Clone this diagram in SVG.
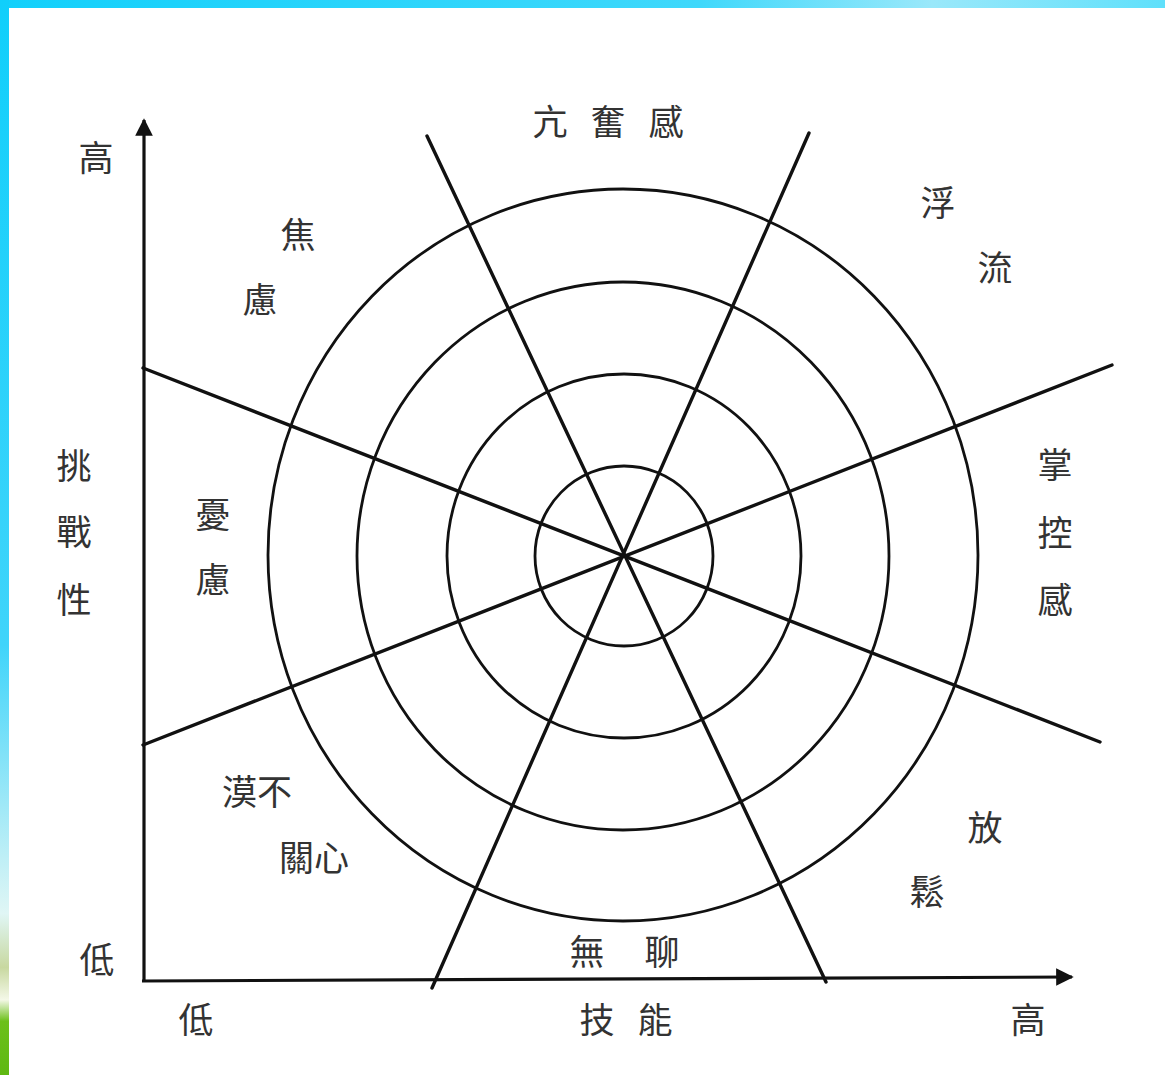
<svg xmlns="http://www.w3.org/2000/svg" width="1165" height="1075" viewBox="0 0 1165 1075">
<style>
.t{font-family:"Noto Sans CJK TC","Noto Sans CJK SC",sans-serif;font-size:35px;fill:#333;text-anchor:middle;dominant-baseline:central}
.ring{fill:none;stroke:#111;stroke-width:2.8}
.ray{stroke:#111;stroke-width:3.4;stroke-linecap:round}
.ax{stroke:#111;stroke-width:3.2}
</style>
<defs>
<linearGradient id="top" x1="0" y1="0" x2="1" y2="0">
<stop offset="0" stop-color="#12d0fb"/>
<stop offset="0.6" stop-color="#3fd8fb"/>
<stop offset="0.8" stop-color="#9ae8fa"/>
<stop offset="1" stop-color="#5fe0fb"/>
</linearGradient>
<linearGradient id="left" x1="0" y1="0" x2="0" y2="1">
<stop offset="0" stop-color="#10cffb"/>
<stop offset="0.6" stop-color="#40d4fa"/>
<stop offset="0.85" stop-color="#e0f6f5"/>
<stop offset="0.9" stop-color="#c8d8a0"/>
<stop offset="0.93" stop-color="#f4f8e8"/>
<stop offset="0.95" stop-color="#6cc01a"/>
<stop offset="1" stop-color="#5fb812"/>
</linearGradient>
<marker id="arr" viewBox="0 0 10 10" refX="9" refY="5" markerWidth="5.5" markerHeight="5.5" orient="auto" markerUnits="strokeWidth">
<path d="M0,0 L10,5 L0,10 Z" fill="#111"/>
</marker>
</defs>
<rect width="1165" height="1075" fill="#fff"/>
<rect x="0" y="0" width="1165" height="8" fill="url(#top)"/>
<rect x="0" y="0" width="9" height="1075" fill="url(#left)"/>

<g id="rings">
<ellipse class="ring" cx="623" cy="555" rx="355" ry="366"/>
<ellipse class="ring" cx="623" cy="556" rx="266" ry="274"/>
<ellipse class="ring" cx="624" cy="556" rx="177" ry="182"/>
<ellipse class="ring" cx="624" cy="556" rx="89" ry="90"/>
</g>

<g id="connectors">
<line class="ray" x1="143" y1="368" x2="1100" y2="742"/>
<line class="ray" x1="143" y1="745" x2="1112" y2="365"/>
<line class="ray" x1="427" y1="136" x2="826" y2="982"/>
<line class="ray" x1="809" y1="133" x2="432" y2="988"/>
<line class="ax" x1="144" y1="982" x2="144" y2="120" marker-end="url(#arr)"/>
<line class="ax" x1="142" y1="981" x2="1072" y2="977" marker-end="url(#arr)"/>
</g>

<g id="labels">
<text class="t" x="96" y="155">高</text>
<text class="t" x="550" y="119">亢</text>
<text class="t" x="608" y="119">奮</text>
<text class="t" x="666" y="119">感</text>
<text class="t" x="938" y="200">浮</text>
<text class="t" x="995" y="265">流</text>
<text class="t" x="298" y="232">焦</text>
<text class="t" x="260" y="297">慮</text>
<text class="t" x="74" y="463">挑</text>
<text class="t" x="74" y="529">戰</text>
<text class="t" x="74" y="597">性</text>
<text class="t" x="213" y="512">憂</text>
<text class="t" x="213" y="577">慮</text>
<text class="t" x="1055" y="462">掌</text>
<text class="t" x="1055" y="530">控</text>
<text class="t" x="1055" y="597">感</text>
<text class="t" x="257" y="789">漠不</text>
<text class="t" x="314" y="855">關心</text>
<text class="t" x="985" y="825">放</text>
<text class="t" x="927" y="889">鬆</text>
<text class="t" x="97" y="957">低</text>
<text class="t" x="587" y="949">無</text>
<text class="t" x="662" y="949">聊</text>
<text class="t" x="196" y="1017">低</text>
<text class="t" x="597" y="1017">技</text>
<text class="t" x="655" y="1017">能</text>
<text class="t" x="1028" y="1017">高</text>
</g>
</svg>
